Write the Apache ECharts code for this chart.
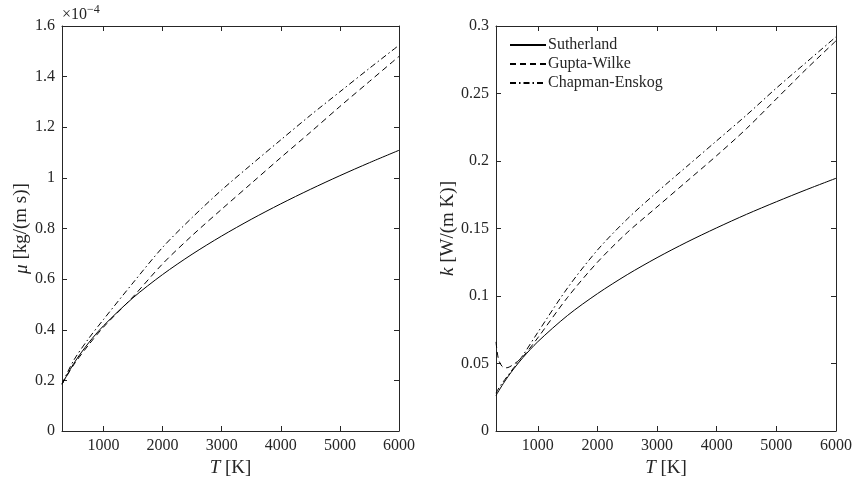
<!DOCTYPE html>
<html>
<head>
<meta charset="utf-8">
<script src="https://cdn.jsdelivr.net/npm/echarts@6/dist/echarts.min.js"></script>
<style>
html,body{margin:0;padding:0;background:#fff;}
#chart{width:855px;height:483px;}
</style>
</head>
<body>
<div id="chart"></div>
<script>
// ---- data ----
const seriesNames = ['Sutherland', 'Gupta-Wilke', 'Chapman-Enskog'];
const xTicks = [1000, 2000, 3000, 4000, 5000, 6000];

// Left: viscosity (x 1e-4 kg/(m s))
const tMu = [300, 500, 750, 1000, 1500, 2000, 2500, 3000, 3500, 4000, 4500, 5000, 5500, 6000];
const muSutherland = [0.1846, 0.2671, 0.3481, 0.4152, 0.5260, 0.6179, 0.6982, 0.7702, 0.8362, 0.8974, 0.9546, 1.0087, 1.0600, 1.1090];
const muGupta      = [0.185, 0.262, 0.340, 0.410, 0.530, 0.660, 0.772, 0.876, 0.978, 1.080, 1.180, 1.282, 1.381, 1.480];
const muChapman    = [0.186, 0.280, 0.365, 0.440, 0.585, 0.725, 0.843, 0.952, 1.052, 1.150, 1.247, 1.340, 1.433, 1.524];

// Right: thermal conductivity W/(m K)
const tK = [300, 325, 350, 400, 450, 500, 600, 750, 1000, 1500, 2000, 2500, 3000, 3500, 4000, 4500, 5000, 5500, 6000];
const kSutherland = [0.0262, 0.0282, 0.0300, 0.0336, 0.0370, 0.0402, 0.0462, 0.0543, 0.0661, 0.0856, 0.1017, 0.1158, 0.1284, 0.1399, 0.1505, 0.1605, 0.1698, 0.1787, 0.1872];
const kGupta      = [0.0660, 0.0570, 0.0520, 0.0480, 0.0468, 0.0470, 0.0495, 0.0550, 0.0690, 0.0990, 0.1250, 0.1470, 0.1660, 0.1850, 0.2040, 0.2240, 0.2460, 0.2680, 0.2890];
const kChapman    = [0.0280, 0.0300, 0.0320, 0.0352, 0.0382, 0.0412, 0.0470, 0.0560, 0.0730, 0.1060, 0.1340, 0.1570, 0.1770, 0.1960, 0.2150, 0.2340, 0.2540, 0.2730, 0.2920];

// ---- chart ----
const FONT = 'Liberation Serif';
const AX = '#262626';
const zip = (xs, ys) => xs.map((x, i) => [x, ys[i]]);
const plain = v => String(v);

function xAxisPair(gridIndex) {
  return [{
    type: 'value', gridIndex, min: 300, max: 6000, position: 'bottom',
    name: '{i|T} [K]', nameLocation: 'middle', nameGap: 23,
    nameTextStyle: {fontFamily: FONT, fontSize: 19, color: AX,
      rich: {i: {fontFamily: FONT, fontSize: 19, fontStyle: 'italic', color: AX}}},
    axisLine: {show: true, onZero: false, lineStyle: {color: AX, width: 1}},
    axisTick: {show: true, inside: true, length: 5, lineStyle: {color: AX}, customValues: xTicks},
    axisLabel: {show: true, margin: 7, fontFamily: FONT, fontSize: 16, color: AX, customValues: xTicks, formatter: plain},
    splitLine: {show: false}
  }, {
    type: 'value', gridIndex, min: 300, max: 6000, position: 'top',
    axisLine: {show: true, onZero: false, lineStyle: {color: AX, width: 1}},
    axisTick: {show: true, inside: true, length: 5, lineStyle: {color: AX}, customValues: xTicks},
    axisLabel: {show: false, customValues: xTicks},
    splitLine: {show: false}
  }];
}

function yAxisPair(gridIndex, max, interval, name, gap) {
  return [{
    type: 'value', gridIndex, min: 0, max, interval, position: 'left',
    name, nameLocation: 'middle', nameGap: gap,
    nameTextStyle: {fontFamily: FONT, fontSize: 19, color: AX,
      rich: {i: {fontFamily: FONT, fontSize: 19, fontStyle: 'italic', color: AX}}},
    axisLine: {show: true, onZero: false, lineStyle: {color: AX, width: 1}},
    axisTick: {show: true, inside: true, length: 5, lineStyle: {color: AX}},
    axisLabel: {show: true, margin: 7, fontFamily: FONT, fontSize: 16, color: AX, formatter: plain},
    splitLine: {show: false}
  }, {
    type: 'value', gridIndex, min: 0, max, interval, position: 'right',
    axisLine: {show: true, onZero: false, lineStyle: {color: AX, width: 1}},
    axisTick: {show: true, inside: true, length: 5, lineStyle: {color: AX}},
    axisLabel: {show: false},
    splitLine: {show: false}
  }];
}

const styles = [
  {type: 'solid'},
  {type: [6, 4]},
  {type: [6, 3, 1.5, 3]}
];

function mk(name, idx, xi, yi, data) {
  return {
    name, type: 'line', xAxisIndex: xi, yAxisIndex: yi, data,
    symbol: 'none', smooth: 0.3, silent: true,
    lineStyle: Object.assign({color: '#000', width: 1}, styles[idx]),
    itemStyle: {color: '#000'}
  };
}

const option = {
  animation: false,
  backgroundColor: '#fff',
  grid: [
    {left: 62, top: 26, width: 337, height: 405},
    {left: 496, top: 26, width: 340, height: 405}
  ],
  xAxis: [...xAxisPair(0), ...xAxisPair(1)],
  yAxis: [...yAxisPair(0, 1.6, 0.2, '{i|μ} [kg/(m s)]', 31),
          ...yAxisPair(1, 0.3, 0.05, '{i|k} [W/(m K)]', 35)],
  legend: {
    data: seriesNames, orient: 'vertical', left: 509, top: 37,
    itemWidth: 36, itemHeight: 10, itemGap: 3, padding: 0,
    itemStyle: {opacity: 0, color: 'transparent', borderColor: 'transparent', borderWidth: 0},
    textStyle: {fontFamily: FONT, fontSize: 16, color: AX, lineHeight: 16, padding: [0, 0, 0, -3]},
    selectedMode: false
  },
  graphic: [{
    type: 'text', left: 62, top: 4,
    style: {text: '×10{sup|−4}', fontFamily: FONT, fontSize: 16, fill: AX,
      rich: {sup: {fontFamily: FONT, fontSize: 12, fill: AX, verticalAlign: 'top', padding: [0, 0, 9, 0]}}}
  }],
  series: [
    mk(seriesNames[0], 0, 0, 0, zip(tMu, muSutherland)),
    mk(seriesNames[1], 1, 0, 0, zip(tMu, muGupta)),
    mk(seriesNames[2], 2, 0, 0, zip(tMu, muChapman)),
    mk(seriesNames[0], 0, 2, 2, zip(tK, kSutherland)),
    mk(seriesNames[1], 1, 2, 2, zip(tK, kGupta)),
    mk(seriesNames[2], 2, 2, 2, zip(tK, kChapman))
  ]
};

const chart = echarts.init(document.getElementById('chart'), null, {renderer: 'canvas'});
chart.setOption(option);
</script>
</body>
</html>
